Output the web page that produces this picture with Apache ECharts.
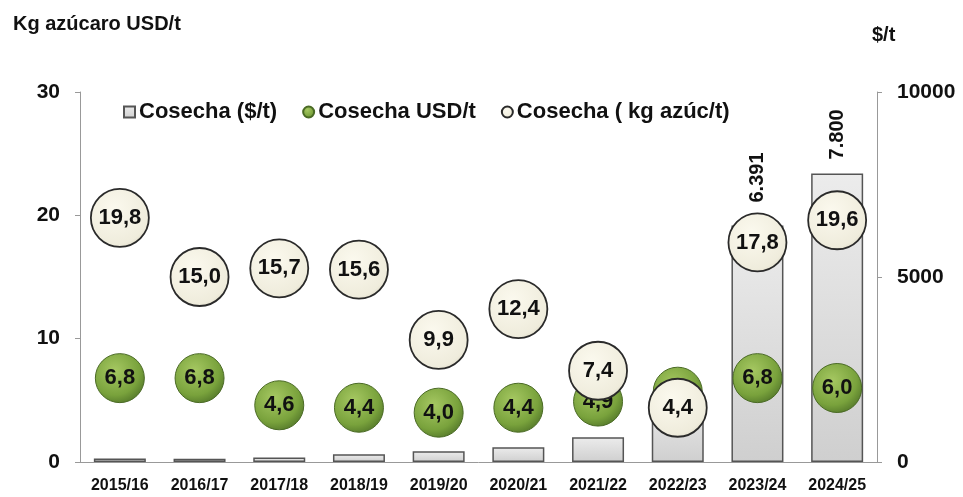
<!DOCTYPE html>
<html>
<head>
<meta charset="utf-8">
<script src="https://cdn.jsdelivr.net/npm/echarts@6/dist/echarts.min.js"></script>
<style>
    html, body { margin: 0; padding: 0; background: #fff; }
    #chart { width: 963px; height: 497px; }
</style>
</head>
<body>
<div id="chart"></div>
<script>
// zafras
const categories = ['2015/16', '2016/17', '2017/18', '2018/19', '2019/20', '2020/21', '2021/22', '2022/23', '2023/24', '2024/25'];
// Cosecha ($/t) - eje derecho
const cosechaPesos = [95, 90, 120, 210, 290, 400, 670, 1700, 6391, 7800];
// Cosecha USD/t - eje izquierdo
const cosechaUsd = [6.8, 6.8, 4.6, 4.4, 4.0, 4.4, 4.9, 5.7, 6.8, 6.0];
// Cosecha (kg azúc/t) - eje izquierdo
const cosechaKg = [19.8, 15.0, 15.7, 15.6, 9.9, 12.4, 7.4, 4.4, 17.8, 19.6];
// solo estas barras llevan etiqueta
const labeledBars = [8, 9];

const font = 'Liberation Sans, Arial, sans-serif';

const chart = echarts.init(document.getElementById('chart'));

// formato con coma decimal
const comma = (v) => v.toFixed(1).replace('.', ',');
// miles con punto
const miles = (v) => String(v).replace(/\B(?=(\d{3})+(?!\d))/g, '.');

const greenFill = new echarts.graphic.RadialGradient(0.4, 0.35, 0.7, [
    { offset: 0, color: '#a6c862' },
    { offset: 0.7, color: '#79a23c' },
    { offset: 1, color: '#54782a' },
]);
const creamFill = new echarts.graphic.RadialGradient(0.4, 0.35, 0.75, [
    { offset: 0, color: '#fbf9ee' },
    { offset: 0.8, color: '#efecdc' },
    { offset: 1, color: '#d8d4c0' },
]);
const barFill = new echarts.graphic.LinearGradient(0, 0, 0, 1, [
    { offset: 0, color: '#ececec' },
    { offset: 1, color: '#cfcfcf' },
]);

const axisLabelStyle = { color: '#111', fontFamily: font, fontWeight: 'bold', fontSize: 21 };

const option = {
    animation: false,
    textStyle: { fontFamily: font },
    title: [
        {
            text: 'Kg azúcaro USD/t',
            left: 8,
            top: 9,
            textStyle: { fontFamily: font, fontWeight: 'bold', fontSize: 20, color: '#111' },
        },
        {
            text: '$/t',
            left: 867,
            top: 20,
            textStyle: { fontFamily: font, fontWeight: 'bold', fontSize: 20, color: '#111' },
        },
    ],
    legend: {
        left: 118,
        top: 96,
        itemWidth: 11,
        itemHeight: 11,
        itemGap: 25,
        textStyle: { fontFamily: font, fontWeight: 'bold', fontSize: 22, color: '#111', padding: [0, 0, 0, -1] },
        data: [
            { name: 'Cosecha ($/t)', icon: 'rect' },
            { name: 'Cosecha USD/t', icon: 'circle' },
            { name: 'Cosecha ( kg azúc/t)', icon: 'circle' },
        ],
    },
    grid: {
        left: 80,
        right: 86,
        top: 92,
        bottom: 35,
    },
    xAxis: {
        type: 'category',
        data: categories,
        axisLine: { lineStyle: { color: '#999' } },
        axisTick: { lineStyle: { color: '#999' }, length: 5 },
        axisLabel: { color: '#111', fontFamily: font, fontWeight: 'bold', fontSize: 16, margin: 16 },
    },
    yAxis: [
        {
            type: 'value',
            min: 0,
            max: 30,
            interval: 10,
            splitLine: { show: false },
            axisLine: { show: true, lineStyle: { color: '#999' } },
            axisTick: { show: true, length: 5, lineStyle: { color: '#999' } },
            axisLabel: Object.assign({ margin: 20 }, axisLabelStyle),
        },
        {
            type: 'value',
            min: 0,
            max: 10000,
            interval: 5000,
            splitLine: { show: false },
            axisLine: { show: true, lineStyle: { color: '#999' } },
            axisTick: { show: true, length: 5, lineStyle: { color: '#999' } },
            axisLabel: Object.assign({ margin: 20, formatter: (v) => String(v) }, axisLabelStyle),
        },
    ],
    series: [
        {
            name: 'Cosecha ($/t)',
            type: 'bar',
            yAxisIndex: 1,
            barWidth: 52,
            z: 1,
            itemStyle: { color: barFill, borderColor: '#555', borderWidth: 1.5 },
            data: cosechaPesos.map((v, i) => ({
                value: v,
                label: {
                    show: labeledBars.includes(i),
                    position: 'top',
                    rotate: 90,
                    align: 'left',
                    verticalAlign: 'middle',
                    distance: i === 8 ? 23 : 14,
                    formatter: (p) => miles(p.value),
                    color: '#111',
                    fontFamily: font,
                    fontWeight: 'bold',
                    fontSize: 20,
                },
            })),
        },
        {
            name: 'Cosecha USD/t',
            type: 'scatter',
            symbol: 'circle',
            symbolSize: 49,
            z: 3,
            itemStyle: { color: greenFill, borderColor: '#4a6a25', borderWidth: 1, opacity: 1 },
            label: {
                show: true,
                position: 'inside',
                formatter: (p) => comma(p.value),
                color: '#111',
                fontFamily: font,
                fontWeight: 'bold',
                fontSize: 22,
            },
            data: cosechaUsd,
        },
        {
            name: 'Cosecha ( kg azúc/t)',
            type: 'scatter',
            symbol: 'circle',
            symbolSize: 58,
            z: 4,
            itemStyle: { color: creamFill, borderColor: '#2a2a2a', borderWidth: 1.8, opacity: 1 },
            label: {
                show: true,
                position: 'inside',
                formatter: (p) => comma(p.value),
                color: '#111',
                fontFamily: font,
                fontWeight: 'bold',
                fontSize: 22,
            },
            data: cosechaKg,
        },
    ],
};

chart.setOption(option);
</script>
</body>
</html>
